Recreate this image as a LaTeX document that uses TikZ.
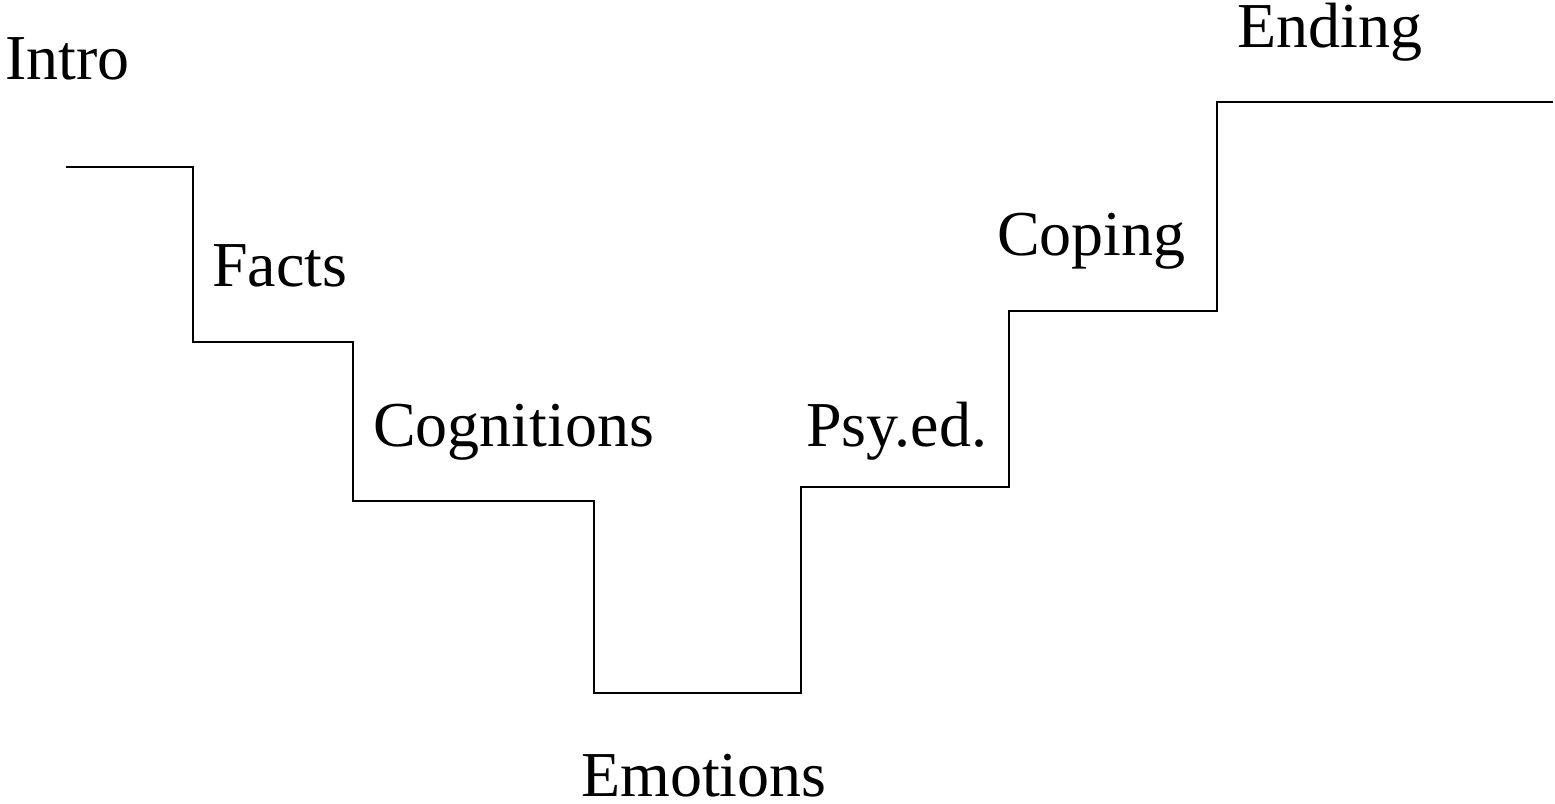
\documentclass[tikz,border=0pt]{standalone}
\usepackage{fontspec}
\setmainfont{Liberation Serif}
\tikzset{
  lbl/.style={anchor=base west,inner sep=0pt,font=\fontsize{64}{64}\selectfont},
  stair/.style={line width=2pt,line join=miter}
}
\begin{document}
\begin{tikzpicture}[x=1pt,y=-1pt]
\useasboundingbox (0,0) rectangle (1555,803);
\coordinate (p0) at (66,167);
\coordinate (p1) at (193,167);
\coordinate (p2) at (193,342);
\coordinate (p3) at (353,342);
\coordinate (p4) at (353,501);
\coordinate (p5) at (594,501);
\coordinate (p6) at (594,693);
\coordinate (p7) at (801,693);
\coordinate (p8) at (801,487);
\coordinate (p9) at (1009,487);
\coordinate (p10) at (1009,311);
\coordinate (p11) at (1217,311);
\coordinate (p12) at (1217,102);
\coordinate (p13) at (1553,102);
\draw[stair] (p0)--(p1)--(p2)--(p3)--(p4)--(p5)--(p6)--(p7)--(p8)--(p9)--(p10)--(p11)--(p12)--(p13);
\node[lbl] (intro) at (5,79) {Intro};
\node[lbl] (facts) at (212,286) {Facts};
\node[lbl] (cogn) at (373,446) {Cognitions};
\node[lbl] (emo) at (581,796) {Emotions};
\node[lbl] (psy) at (806,446) {Psy.ed.};
\node[lbl] (coping) at (997,255) {Coping};
\node[lbl] (ending) at (1237,47) {Ending};
\end{tikzpicture}
\end{document}
